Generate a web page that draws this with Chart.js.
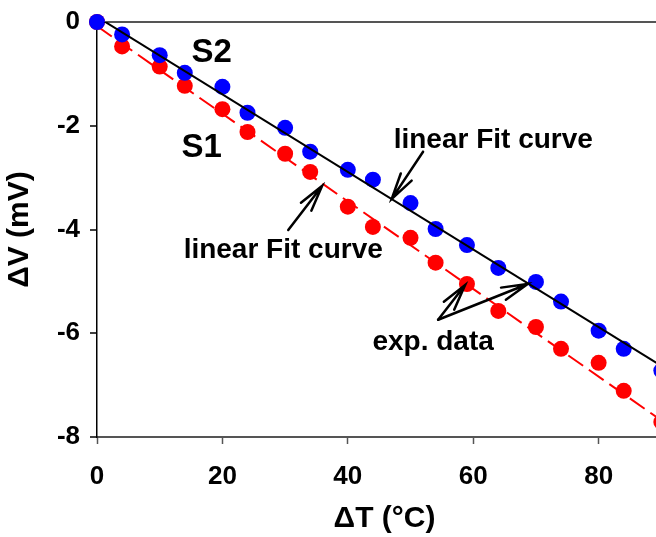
<!DOCTYPE html>
<html lang="en">
<head>
<meta charset="UTF-8">
<title>ΔV vs ΔT</title>
<script src="https://cdn.jsdelivr.net/npm/chart.js"></script>
<style>
  html, body { margin: 0; padding: 0; background: #fff; overflow: hidden; }
</style>
</head>
<body>
<canvas id="dvChart" width="680" height="537"></canvas>
<script>
// temperature steps (°C) shared by both samples
const tempSteps = [0, 4, 10, 14, 20, 24, 30, 34, 40, 44, 50, 54, 59, 64, 70, 74, 80, 84, 90];
// measured voltage change (mV)
const dvS2 = [0, -0.24, -0.64, -0.98, -1.25, -1.75, -2.04, -2.50, -2.85, -3.04, -3.49, -3.99, -4.30, -4.74, -5.01, -5.39, -5.95, -6.30, -6.72];
const dvS1 = [0, -0.47, -0.86, -1.23, -1.68, -2.12, -2.54, -2.89, -3.56, -3.95, -4.16, -4.64, -5.05, -5.57, -5.88, -6.30, -6.57, -7.11, -7.71];
// linear fit end points
const fitT = [0, 90];
const fitS2 = [0.1, -6.63];
const fitS1 = [-0.08, -7.68];
// axis ticks
const xTicks = [0, 20, 40, 60, 80];
const yTicks = [-8, -6, -4, -2, 0];

const FONT = 'Arial, "Liberation Sans", sans-serif';

function pts(xs, ys) {
    return xs.map((x, i) => ({ x: x, y: ys[i] }));
}

// text labels (x centre, y baseline) and arrows, in data units
const notes = [
    { text: 'S2', x: 18.3, y: -0.77, size: 33 },
    { text: 'S1', x: 16.7, y: -2.60, size: 33 },
    { text: 'linear Fit curve', x: 63.2, y: -2.43, size: 28 },
    { text: 'linear Fit curve', x: 29.7, y: -4.54, size: 28 },
    { text: 'exp. data', x: 53.6, y: -6.32, size: 28 }
];
const arrows = [
    { from: [30.5, -4.01], to: [35.9, -3.16] },
    { from: [52.0, -2.50], to: [47.0, -3.41] },
    { from: [54.4, -5.74], to: [58.7, -5.07] },
    { from: [54.4, -5.74], to: [68.7, -5.05] }
];

const notesPlugin = {
    id: 'notes',
    afterDatasetsDraw(chart) {
        const ctx = chart.ctx;
        const xs = chart.scales.x, ys = chart.scales.y;
        ctx.save();
        ctx.fillStyle = '#000';
        ctx.textAlign = 'center';
        ctx.textBaseline = 'alphabetic';
        notes.forEach(n => {
            ctx.font = 'bold ' + n.size + 'px ' + FONT;
            ctx.fillText(n.text, xs.getPixelForValue(n.x), ys.getPixelForValue(n.y));
        });
        ctx.strokeStyle = '#000';
        ctx.lineWidth = 2.5;
        ctx.lineCap = 'round';
        arrows.forEach(a => {
            const x0 = xs.getPixelForValue(a.from[0]), y0 = ys.getPixelForValue(a.from[1]);
            const x1 = xs.getPixelForValue(a.to[0]), y1 = ys.getPixelForValue(a.to[1]);
            const ang = Math.atan2(y0 - y1, x0 - x1);
            const len = 27, spread = 14 * Math.PI / 180;
            ctx.beginPath();
            ctx.moveTo(x0, y0);
            ctx.lineTo(x1, y1);
            ctx.moveTo(x1 + len * Math.cos(ang - spread), y1 + len * Math.sin(ang - spread));
            ctx.lineTo(x1, y1);
            ctx.lineTo(x1 + len * Math.cos(ang + spread), y1 + len * Math.sin(ang + spread));
            ctx.stroke();
        });
        ctx.restore();
    }
};

new Chart(document.getElementById('dvChart'), {
    type: 'scatter',
    data: {
        datasets: [
            {
                label: 'S2 fit',
                type: 'line',
                data: pts(fitT, fitS2),
                borderColor: '#000',
                borderWidth: 2,
                pointRadius: 0,
                order: 0
            },
            {
                label: 'S2',
                data: pts(tempSteps, dvS2),
                backgroundColor: '#0000ff',
                borderWidth: 0,
                pointRadius: 8,
                clip: false,
                order: 1
            },
            {
                label: 'S1 fit',
                type: 'line',
                data: pts(fitT, fitS1),
                borderColor: '#ff0000',
                borderWidth: 2,
                borderDash: [18, 7],
                pointRadius: 0,
                order: 2
            },
            {
                label: 'S1',
                data: pts(tempSteps, dvS1),
                backgroundColor: '#ff0000',
                borderWidth: 0,
                pointRadius: 8,
                clip: false,
                order: 3
            }
        ]
    },
    options: {
        responsive: false,
        animation: false,
        layout: { padding: { top: 22, right: 0, left: 0, bottom: 0 } },
        plugins: { legend: { display: false }, tooltip: { enabled: false } },
        scales: {
            x: {
                type: 'linear',
                min: 0,
                max: 91.7,
                afterBuildTicks: s => { s.ticks = xTicks.map(v => ({ value: v })); },
                afterFit: s => { s.height = 100; },
                border: { color: '#555', width: 2 },
                grid: { drawOnChartArea: false, tickLength: 7, tickColor: '#555', tickWidth: 1.5 },
                ticks: { color: '#000', padding: 17, maxRotation: 0, font: { family: FONT, size: 26, weight: 'bold' } },
                title: {
                    display: true,
                    text: 'ΔT (°C)',
                    color: '#000',
                    padding: 0,
                    font: { family: FONT, size: 30, weight: 'bold' }
                }
            },
            y: {
                min: -8,
                max: 0,
                afterBuildTicks: s => { s.ticks = yTicks.map(v => ({ value: v })); },
                afterFit: s => { s.width = 97; s.paddingTop = 0; s.paddingBottom = 0; },
                border: { color: '#000', width: 1.5 },
                grid: {
                    drawOnChartArea: true,
                    // only the top edge of the plot gets a line
                    color: c => (c.tick && c.tick.value === 0) ? '#555' : 'rgba(0,0,0,0)',
                    lineWidth: 2,
                    tickColor: '#000',
                    tickLength: 7,
                    tickWidth: 1.5
                },
                ticks: { color: '#000', padding: 10, font: { family: FONT, size: 26, weight: 'bold' } },
                title: {
                    display: true,
                    text: 'ΔV (mV)',
                    color: '#000',
                    padding: { top: 2, bottom: 0 },
                    font: { family: FONT, size: 30, weight: 'bold' }
                }
            }
        }
    },
    plugins: [notesPlugin]
});
</script>
</body>
</html>
